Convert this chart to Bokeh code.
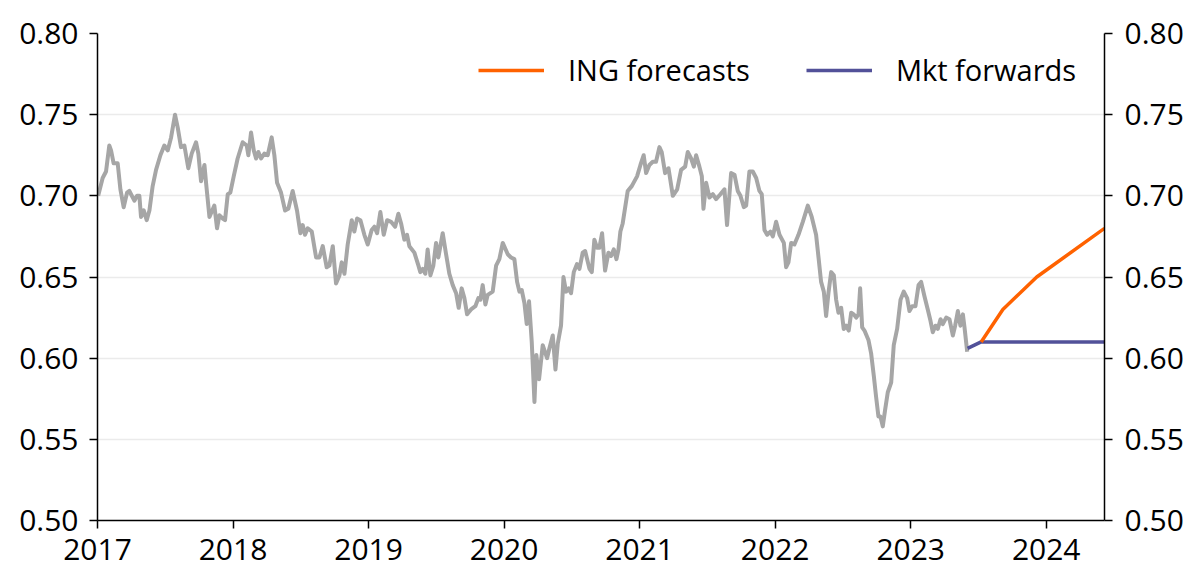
from bokeh.plotting import figure
from bokeh.models import (LinearAxis, Range1d, FixedTicker, NumeralTickFormatter,
                          Legend, LegendItem)
from bokeh.embed import file_html
from bokeh.resources import INLINE

# Spot history (decimal year, level)
hist_year = [
    2017.005, 2017.038, 2017.063, 2017.087, 2017.100, 2017.119, 2017.149, 2017.169, 2017.193, 2017.218,
    2017.235, 2017.272, 2017.292, 2017.309, 2017.321, 2017.341, 2017.363, 2017.383, 2017.407, 2017.432,
    2017.464, 2017.493, 2017.518, 2017.543, 2017.572, 2017.592, 2017.616, 2017.641, 2017.670, 2017.695,
    2017.727, 2017.744, 2017.764, 2017.789, 2017.801, 2017.826, 2017.862, 2017.882, 2017.899, 2017.924,
    2017.941, 2017.961, 2017.980, 2018.005, 2018.034, 2018.071, 2018.101, 2018.113, 2018.133, 2018.153,
    2018.170, 2018.187, 2018.207, 2018.231, 2018.256, 2018.285, 2018.305, 2018.325, 2018.354, 2018.384,
    2018.408, 2018.440, 2018.472, 2018.497, 2018.514, 2018.531, 2018.551, 2018.581, 2018.613, 2018.637,
    2018.662, 2018.691, 2018.711, 2018.736, 2018.760, 2018.785, 2018.802, 2018.822, 2018.846, 2018.876,
    2018.895, 2018.915, 2018.940, 2018.969, 2018.994, 2019.023, 2019.043, 2019.063, 2019.087, 2019.112,
    2019.137, 2019.166, 2019.196, 2019.220, 2019.240, 2019.264, 2019.284, 2019.301, 2019.338, 2019.368,
    2019.382, 2019.400, 2019.419, 2019.436, 2019.456, 2019.478, 2019.498, 2019.515, 2019.547, 2019.572,
    2019.596, 2019.621, 2019.646, 2019.665, 2019.687, 2019.707, 2019.727, 2019.756, 2019.788, 2019.810,
    2019.825, 2019.842, 2019.862, 2019.879, 2019.916, 2019.941, 2019.965, 2019.990, 2020.027, 2020.051,
    2020.076, 2020.096, 2020.113, 2020.130, 2020.150, 2020.167, 2020.184, 2020.204, 2020.224, 2020.238,
    2020.258, 2020.285, 2020.317, 2020.334, 2020.359, 2020.379, 2020.396, 2020.420, 2020.438, 2020.457,
    2020.477, 2020.494, 2020.514, 2020.538, 2020.556, 2020.580, 2020.598, 2020.630, 2020.647, 2020.666,
    2020.686, 2020.703, 2020.723, 2020.745, 2020.770, 2020.789, 2020.809, 2020.829, 2020.844, 2020.858,
    2020.875, 2020.912, 2020.942, 2020.981, 2021.006, 2021.030, 2021.048, 2021.072, 2021.097, 2021.121,
    2021.146, 2021.163, 2021.188, 2021.213, 2021.245, 2021.277, 2021.306, 2021.336, 2021.355, 2021.380,
    2021.400, 2021.417, 2021.441, 2021.459, 2021.471, 2021.491, 2021.515, 2021.540, 2021.564, 2021.596,
    2021.626, 2021.645, 2021.675, 2021.700, 2021.724, 2021.744, 2021.769, 2021.786, 2021.810, 2021.835,
    2021.860, 2021.884, 2021.901, 2021.921, 2021.941, 2021.965, 2021.983, 2022.007, 2022.032, 2022.064,
    2022.081, 2022.098, 2022.118, 2022.142, 2022.172, 2022.204, 2022.241, 2022.270, 2022.302, 2022.320,
    2022.339, 2022.359, 2022.376, 2022.393, 2022.413, 2022.433, 2022.450, 2022.467, 2022.487, 2022.506,
    2022.524, 2022.543, 2022.561, 2022.580, 2022.598, 2022.615, 2022.627, 2022.642, 2022.659, 2022.689,
    2022.708, 2022.728, 2022.745, 2022.762, 2022.777, 2022.794, 2022.811, 2022.831, 2022.856, 2022.875,
    2022.900, 2022.925, 2022.949, 2022.974, 2022.991, 2023.011, 2023.035, 2023.058, 2023.077, 2023.102,
    2023.126, 2023.146, 2023.163, 2023.183, 2023.200, 2023.220, 2023.237, 2023.262, 2023.286, 2023.311,
    2023.328, 2023.348, 2023.367, 2023.385, 2023.397, 2023.417,
]
hist_value = [
    0.700, 0.711, 0.715, 0.731, 0.728, 0.720, 0.720, 0.704, 0.693, 0.702,
    0.703, 0.697, 0.700, 0.700, 0.687, 0.691, 0.685, 0.691, 0.706, 0.716,
    0.725, 0.731, 0.728, 0.736, 0.750, 0.742, 0.730, 0.731, 0.717, 0.726,
    0.733, 0.726, 0.709, 0.719, 0.708, 0.687, 0.694, 0.680, 0.688, 0.686,
    0.685, 0.701, 0.702, 0.712, 0.723, 0.733, 0.731, 0.725, 0.739, 0.728,
    0.723, 0.727, 0.723, 0.726, 0.725, 0.736, 0.725, 0.708, 0.702, 0.691,
    0.692, 0.703, 0.691, 0.677, 0.682, 0.676, 0.680, 0.678, 0.662, 0.662,
    0.669, 0.656, 0.657, 0.669, 0.646, 0.651, 0.659, 0.652, 0.670, 0.685,
    0.678, 0.686, 0.685, 0.676, 0.670, 0.679, 0.681, 0.677, 0.690, 0.676,
    0.685, 0.684, 0.681, 0.689, 0.683, 0.673, 0.676, 0.669, 0.665, 0.657,
    0.653, 0.655, 0.652, 0.667, 0.651, 0.657, 0.671, 0.662, 0.677, 0.664,
    0.652, 0.645, 0.640, 0.631, 0.643, 0.637, 0.627, 0.630, 0.632, 0.637,
    0.636, 0.645, 0.633, 0.639, 0.641, 0.657, 0.661, 0.671, 0.664, 0.662,
    0.661, 0.647, 0.641, 0.642, 0.634, 0.621, 0.635, 0.610, 0.573, 0.602,
    0.587, 0.608, 0.600, 0.606, 0.614, 0.593, 0.609, 0.620, 0.650, 0.641,
    0.643, 0.640, 0.653, 0.658, 0.655, 0.665, 0.666, 0.655, 0.653, 0.673,
    0.668, 0.668, 0.677, 0.654, 0.665, 0.663, 0.667, 0.661, 0.667, 0.678,
    0.683, 0.703, 0.706, 0.712, 0.719, 0.725, 0.714, 0.719, 0.721, 0.721,
    0.730, 0.727, 0.714, 0.717, 0.700, 0.704, 0.716, 0.718, 0.727, 0.723,
    0.718, 0.725, 0.718, 0.712, 0.692, 0.708, 0.699, 0.701, 0.698, 0.701,
    0.704, 0.682, 0.714, 0.713, 0.703, 0.700, 0.693, 0.694, 0.715, 0.715,
    0.711, 0.703, 0.701, 0.679, 0.676, 0.678, 0.675, 0.684, 0.676, 0.671,
    0.656, 0.659, 0.671, 0.670, 0.676, 0.684, 0.694, 0.687, 0.676, 0.662,
    0.647, 0.641, 0.626, 0.640, 0.653, 0.651, 0.636, 0.628, 0.631, 0.618,
    0.620, 0.617, 0.628, 0.627, 0.625, 0.627, 0.643, 0.619, 0.617, 0.611,
    0.603, 0.589, 0.576, 0.564, 0.564, 0.558, 0.568, 0.579, 0.585, 0.608,
    0.618, 0.636, 0.641, 0.637, 0.629, 0.632, 0.632, 0.645, 0.647, 0.638,
    0.630, 0.623, 0.616, 0.620, 0.618, 0.624, 0.621, 0.625, 0.624, 0.614,
    0.620, 0.629, 0.620, 0.627, 0.619, 0.604,
]

# ING forecasts
fc_year = [2023.52, 2023.68, 2023.93, 2024.43]
ing_fc = [0.61, 0.63, 0.65, 0.68]

# Market forwards
fwd_year = [2023.42, 2023.52, 2024.43]
mkt_fwd = [0.606, 0.61, 0.61]

year_ticks = [2017, 2018, 2019, 2020, 2021, 2022, 2023, 2024]
value_ticks = [0.50, 0.55, 0.60, 0.65, 0.70, 0.75, 0.80]

FONT = "Open Sans"
FS = "30px"

p = figure(frame_width=1007, frame_height=487, output_backend="svg",
           toolbar_location=None, x_range=Range1d(2017.0, 2024.43),
           y_range=Range1d(0.50, 0.80),
           min_border_left=97, min_border_right=80, min_border_top=33,
           min_border_bottom=60, outline_line_color=None,
           background_fill_color="white", border_fill_color="white")

p.xgrid.visible = False
p.ygrid.ticker = FixedTicker(ticks=value_ticks)
p.ygrid.grid_line_color = "#ebebeb"
p.ygrid.grid_line_width = 1.5

def style_axis(ax):
    ax.axis_line_color = "black"
    ax.axis_line_width = 1.5
    ax.major_tick_line_color = "black"
    ax.major_tick_line_width = 1.5
    ax.major_tick_in = 0
    ax.major_tick_out = 8
    ax.minor_tick_line_color = None
    ax.major_label_text_font = FONT
    ax.major_label_text_font_size = FS
    ax.major_label_text_color = "black"

xa = p.xaxis[0]
xa.ticker = FixedTicker(ticks=year_ticks)
xa.formatter = NumeralTickFormatter(format="0")
xa.major_label_standoff = 10
style_axis(xa)

ya = p.yaxis[0]
ya.ticker = FixedTicker(ticks=value_ticks)
ya.formatter = NumeralTickFormatter(format="0.00")
ya.major_label_standoff = 11
style_axis(ya)

yr = LinearAxis(ticker=FixedTicker(ticks=value_ticks),
                formatter=NumeralTickFormatter(format="0.00"))
yr.major_label_standoff = 12
style_axis(yr)
p.add_layout(yr, "right")

p.line(hist_year, hist_value, line_color="#a6a6a6", line_width=4, line_join="round")
r_fwd = p.line(fwd_year, mkt_fwd, line_color="#525199", line_width=3.5)
r_ing = p.line(fc_year, ing_fc, line_color="#ff6200", line_width=3.5)

legend = Legend(items=[LegendItem(label="ING forecasts", renderers=[r_ing]),
                       LegendItem(label="Mkt forwards", renderers=[r_fwd])],
                orientation="horizontal", location=(381, 431))
legend.border_line_color = None
legend.background_fill_alpha = 0
legend.padding = 0
legend.margin = 0
legend.spacing = 56
legend.glyph_width = 66
legend.glyph_height = 30
legend.label_height = 30
legend.label_standoff = 24
legend.label_text_font = FONT
legend.label_text_font_size = "29px"
legend.label_text_color = "black"
p.add_layout(legend, "center")

open("out.html", "w").write(file_html(p, INLINE))
